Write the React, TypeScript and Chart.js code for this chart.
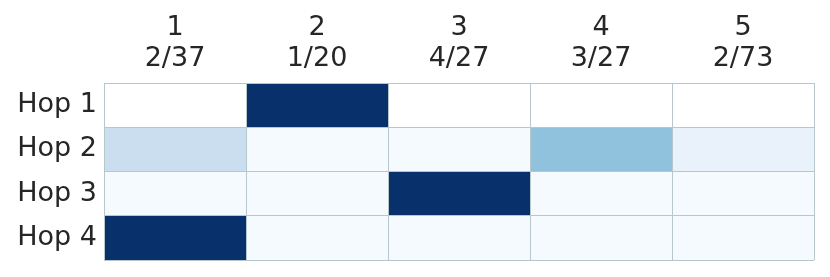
import React, { useEffect, useRef } from 'react';
import { Chart, registerables } from 'chart.js';

Chart.register(...registerables);

// ---- data ----
const rowLabels = ['Hop 1', 'Hop 2', 'Hop 3', 'Hop 4'];
const columnIds = ['1', '2', '3', '4', '5'];
const columnRatios = ['2/37', '1/20', '4/27', '3/27', '2/73'];
const hop1: (number | null)[] = [null, 1, null, null, null];
const hop2: (number | null)[] = [0.23, 0.01, 0.01, 0.41, 0.07];
const hop3: (number | null)[] = [0.01, 0.01, 1, 0.01, 0.01];
const hop4: (number | null)[] = [1, 0.01, 0.01, 0.01, 0.01];
const matrix = [hop1, hop2, hop3, hop4];

// Blues colormap stops
const blues = ['#f7fbff', '#deebf7', '#c6dbef', '#9ecae1', '#6baed6', '#4292c6', '#2171b5', '#08519c', '#08306b'];

function hexToRgb(h: string) {
  return [parseInt(h.slice(1, 3), 16), parseInt(h.slice(3, 5), 16), parseInt(h.slice(5, 7), 16)];
}

function bluesColor(v: number | null): string {
  if (v === null) return '#ffffff';
  const t = Math.max(0, Math.min(1, v)) * (blues.length - 1);
  const i = Math.min(blues.length - 2, Math.floor(t));
  const f = t - i;
  const a = hexToRgb(blues[i]);
  const b = hexToRgb(blues[i + 1]);
  const c = a.map((x, k) => Math.round(x + (b[k] - x) * f));
  return `rgb(${c[0]},${c[1]},${c[2]})`;
}

const FONT = 'DejaVu Sans';
const TEXT = '#262626';
const LINE = '#b8c7cc';

export default function App() {
  const ref = useRef<HTMLCanvasElement>(null);

  useEffect(() => {
    document.body.style.margin = '0';
    const canvas = ref.current;
    if (!canvas) return;

    const datasets = columnIds.map((_, c) => ({
      label: columnIds[c],
      data: rowLabels.map(() => [c, c + 1]),
      backgroundColor: rowLabels.map((_, r) => bluesColor(matrix[r][c])),
      borderWidth: 0,
      barPercentage: 1,
      categoryPercentage: 1,
      grouped: false,
      xAxisID: 'x',
      yAxisID: 'y',
    }));

    const chart = new Chart(canvas, {
      type: 'bar',
      data: { labels: rowLabels, datasets: datasets as any },
      options: {
        indexAxis: 'y',
        animation: false,
        responsive: false,
        devicePixelRatio: 1,
        layout: { padding: { left: 0, right: 16, top: 0, bottom: 17 } },
        plugins: { legend: { display: false }, tooltip: { enabled: false } },
        scales: {
          x: {
            type: 'linear',
            display: false,
            min: 0,
            max: 5,
          },
          xTop: {
            type: 'category',
            position: 'top',
            labels: columnIds.map((id, i) => [id, columnRatios[i]]) as any,
            offset: true,
            grid: { offset: true, color: LINE, lineWidth: 1, drawTicks: false, z: 1 },
            border: { display: false },
            ticks: {
              color: TEXT,
              padding: 8,
              maxRotation: 0,
              autoSkip: false,
              font: { family: FONT, size: 27, lineHeight: 1.15 },
            },
            afterFit: (s: any) => {
              s.height = 83;
              s.paddingLeft = 0;
              s.paddingRight = 0;
            },
          },
          y: {
            type: 'category',
            position: 'left',
            offset: true,
            grid: { offset: true, color: LINE, lineWidth: 1, drawTicks: false, z: 1 },
            border: { display: false },
            ticks: {
              color: TEXT,
              padding: 7,
              font: { family: FONT, size: 27 },
            },
            afterFit: (s: any) => {
              s.width = 104;
              s.paddingTop = 0;
              s.paddingBottom = 0;
            },
          },
        } as any,
      },
    });
    return () => chart.destroy();
  }, []);

  return (
    <div style={{ width: 830, height: 277 }}>
      <canvas ref={ref} width={830} height={277} style={{ display: 'block' }} />
    </div>
  );
}
